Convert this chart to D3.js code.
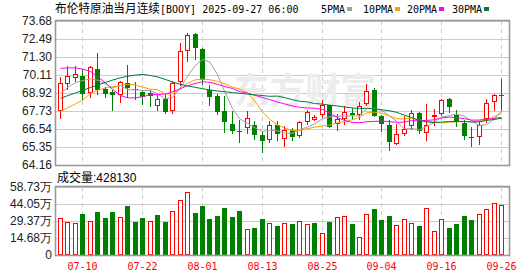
<!DOCTYPE html>
<html><head><meta charset="utf-8">
<script src="https://cdn.jsdelivr.net/npm/d3@7/dist/d3.min.js"></script>
<style>html,body{margin:0;padding:0;background:#fff;}svg{display:block;}</style>
</head><body>
<script>
const dates = ["07-07","07-08","07-09","07-10","07-11","07-14","07-15","07-16","07-17","07-18","07-21","07-22","07-23","07-24","07-25","07-28","07-29","07-30","07-31",
"08-01","08-04","08-05","08-06","08-07","08-08","08-11","08-12","08-13","08-14","08-15","08-18","08-19","08-20","08-21","08-22","08-25","08-26","08-27","08-28","08-29",
"09-01","09-02","09-03","09-04","09-05","09-08","09-09","09-10","09-11","09-12","09-15","09-16","09-17","09-18","09-19","09-22","09-23","09-24","09-25","09-26"];
const open = [67.71,69.54,69.93,70.07,68.90,70.51,69.21,69.01,68.81,69.58,
69.18,68.99,68.92,68.04,68.52,67.71,69.62,71.72,72.82,71.83,
69.14,68.74,67.75,66.87,66.38,66.60,66.78,66.12,65.79,66.83,
65.88,66.49,66.05,66.98,67.11,67.44,68.10,66.87,67.20,67.60,
67.44,68.21,69.14,67.38,66.83,65.57,66.21,66.71,67.60,66.25,
67.33,67.53,68.52,67.49,66.94,65.99,65.99,67.22,68.32,68.75];
const close = [69.58,70.02,70.15,68.88,70.62,69.14,68.88,68.77,69.65,69.25,
69.12,68.66,68.74,68.52,67.64,69.58,71.72,72.73,71.89,69.80,
68.66,67.64,66.98,66.43,66.32,67.27,66.12,65.72,66.83,66.21,
66.49,65.99,66.98,67.64,67.31,68.10,66.69,67.20,67.64,67.44,
68.08,69.03,67.38,66.87,65.68,66.21,66.54,67.60,66.38,66.83,
67.44,68.44,67.97,66.98,66.05,66.03,66.83,68.24,68.77,68.80];
const high = [69.96,70.68,70.68,70.53,70.68,71.56,69.29,69.14,69.69,70.79,
69.65,69.14,69.14,68.81,68.81,69.69,72.23,72.89,72.86,71.89,
69.47,68.85,68.70,67.71,67.15,67.71,67.05,66.38,67.05,67.05,
66.72,66.60,67.05,67.82,67.49,68.48,68.15,67.53,68.04,67.93,
68.33,69.51,69.25,67.44,67.16,66.87,67.38,67.82,67.64,68.19,
67.86,68.52,68.59,67.82,67.16,66.65,67.00,68.52,68.85,69.87];
const low = [67.22,69.14,69.65,68.48,68.59,68.81,68.59,67.75,68.26,68.59,
68.48,68.15,67.99,67.71,67.53,67.53,69.36,70.95,71.08,69.43,
68.04,67.44,66.27,66.21,65.60,66.21,65.83,64.98,65.61,65.72,
65.33,65.77,65.94,66.83,67.05,67.27,66.60,66.38,66.83,67.16,
67.16,68.04,67.31,66.34,65.06,65.46,66.05,66.49,66.21,65.72,
66.71,67.38,67.60,66.67,65.83,65.33,65.46,66.94,67.71,67.72];
const volume = [317000,283000,274000,351000,291000,371000,317000,371000,325000,420000,
285000,320000,291000,342000,285000,377000,471000,548000,362000,422000,
311000,337000,405000,328000,380000,223000,234000,311000,274000,251000,
274000,268000,291000,265000,277000,188000,285000,325000,337000,268000,
154000,351000,397000,303000,337000,257000,308000,274000,251000,402000,
208000,308000,234000,268000,337000,303000,351000,394000,445000,428130];
// moving-average values before a full window exists
const ma5Head = [68.9,69.3,69.6,69.75];
const ma10Head = [67.71,67.95,68.2,68.46,68.88,69.1,69.25,69.33,69.42];
const ma20Head = [70.55,70.58,70.58,70.5,70.35,70.0,69.6,69.15,68.75,68.6,68.6,68.68,68.8,68.82,68.85,69.0,69.2,69.4,69.55];
const ma30Head = [68.57,68.75,68.92,69.1,69.28,69.45,69.62,69.78,69.92,70.03,70.1,70.15,70.08,69.98,69.82,69.65,69.5,69.38,69.3,69.2,69.12,69.05,69.0,68.95,68.9,68.85,68.8,68.75,68.7];
const priceTicks = [73.68,72.49,71.30,70.11,68.92,67.73,66.54,65.35,64.16];
const volTicks = [587300,440500,293700,146800,0];
const volTickLabels = ["58.73万","44.05万","29.37万","14.68万","0"];
const xTickLabels = ["07-10","07-22","08-01","08-13","08-25","09-04","09-16","09-26"];
const title = "布伦特原油当月连续";
const titleCode = "[BOOY] 2025-09-27 06:00";
const maNames = ["5PMA","10PMA","20PMA","30PMA"];
const maColors = ["#a0a0a0","#f5a300","#ff00ff","#007a3a"];

const W=530,H=276;
const L=56,R=509,T=21,B=165,VT=187,VB=255;
const svg=d3.select("body").append("svg").attr("width",W).attr("height",H);
const x=d3.scalePoint().domain(dates).range([60,501]);
const y=d3.scaleLinear().domain([64.16,73.68]).range([B,T]);
const yv=d3.scaleLinear().domain([0,587300]).range([VB,VT]);
const RED="#ff0000",GREEN="#008000";
const font="'Liberation Sans',Arial,sans-serif";
const mono="'DejaVu Sans Mono',monospace";
const cx=d=>Math.round(x(d));

// gridlines
svg.append("g").selectAll("line").data(priceTicks).join("line")
 .attr("x1",L).attr("x2",R).attr("y1",d=>Math.round(y(d))+0.5).attr("y2",d=>Math.round(y(d))+0.5)
 .attr("stroke","#cccccc");
svg.append("g").selectAll("line").data(volTicks).join("line")
 .attr("x1",L).attr("x2",R).attr("y1",d=>Math.round(yv(d))+0.5).attr("y2",d=>Math.round(yv(d))+0.5)
 .attr("stroke","#cccccc");
// vertical dashed
const vg=svg.append("g");
xTickLabels.forEach(t=>{
  const xx=cx(t)+0.5;
  vg.append("line").attr("x1",xx).attr("x2",xx).attr("y1",T).attr("y2",B).attr("stroke","#c8c8c8").attr("stroke-dasharray","4,4");
  vg.append("line").attr("x1",xx).attr("x2",xx).attr("y1",VT).attr("y2",VB).attr("stroke","#c8c8c8").attr("stroke-dasharray","4,4");
});
// watermark
svg.append("text").attr("x",234).attr("y",104).attr("font-family","'Noto Sans CJK SC',sans-serif")
 .attr("font-size",36).attr("font-weight","bold").attr("fill","#ececec").attr("textLength",142).attr("lengthAdjust","spacingAndGlyphs").text("东方财富");

// candles
const idx=d3.range(dates.length);
const cg=svg.append("g");
idx.forEach(i=>{
  const d=dates[i],c=cx(d);
  const up=close[i]>=open[i];
  const col=up?RED:GREEN;
  const yh=y(high[i]),yl=y(low[i]);
  const yo=y(open[i]),yc=y(close[i]);
  const top=Math.round(Math.min(yo,yc)),bot=Math.round(Math.max(yo,yc));
  cg.append("line").attr("x1",c+0.5).attr("x2",c+0.5).attr("y1",Math.round(yh)).attr("y2",Math.round(yl)).attr("stroke",col);
  if(up){
    const h=Math.max(bot-top,1);
    if(bot-top<=1){
      cg.append("line").attr("x1",c-2).attr("x2",c+3).attr("y1",top+0.5).attr("y2",top+0.5).attr("stroke",col);
    } else {
      cg.append("rect").attr("x",c-1.5).attr("y",top+0.5).attr("width",4).attr("height",h-1).attr("fill","#fff").attr("stroke",col);
    }
  } else {
    cg.append("rect").attr("x",c-2).attr("y",top).attr("width",5).attr("height",Math.max(bot-top,1)).attr("fill",col);
  }
});

// moving averages
function ma(n,head){
  return idx.map(i=> i>=n-1 ? d3.mean(close.slice(i-n+1,i+1)) : head[i]);
}
const mas=[ma(5,ma5Head),ma(10,ma10Head),ma(20,ma20Head),ma(30,ma30Head)];
svg.append("clipPath").attr("id","clp").append("rect").attr("x",L).attr("y",T).attr("width",R-L).attr("height",B-T);
const line=d3.line().x((v,i)=>x(dates[i])+0.5).y(v=>y(v));
mas.forEach((m,k)=>{
  svg.append("path").attr("d",line(m)).attr("fill","none").attr("stroke",maColors[k]).attr("stroke-width",1).attr("clip-path","url(#clp)");
});

// volume bars
const vb=svg.append("g");
idx.forEach(i=>{
  const c=cx(dates[i]);
  const up=i===0?close[i]>=open[i]:close[i]>=close[i-1];
  const top=Math.round(yv(volume[i]));
  if(up){
    vb.append("rect").attr("x",c-1.5).attr("y",top+0.5).attr("width",4).attr("height",VB-top-1).attr("fill","#fff").attr("stroke",RED);
  } else {
    vb.append("rect").attr("x",c-2).attr("y",top).attr("width",5).attr("height",VB-top).attr("fill",GREEN);
  }
});

// borders
svg.append("rect").attr("x",L-0.5).attr("y",T-0.5).attr("width",R-L+1).attr("height",B-T+1).attr("fill","none").attr("stroke","#999").attr("stroke-width",1.6);
svg.append("rect").attr("x",L-0.5).attr("y",VT-0.5).attr("width",R-L+1).attr("height",VB-VT+1).attr("fill","none").attr("stroke","#999").attr("stroke-width",1.6);

// axes labels
svg.append("g").selectAll("text").data(priceTicks).join("text")
 .attr("x",52).attr("y",d=>y(d)).attr("dy","0.36em").attr("text-anchor","end")
 .attr("font-family",font).attr("font-size",12).attr("fill","#222").text(d=>d.toFixed(2));
svg.append("g").selectAll("text").data(volTicks).join("text")
 .attr("x",52).attr("y",d=>yv(d)).attr("dy","0.36em").attr("text-anchor","end")
 .attr("font-family",font).attr("font-size",12).attr("fill","#222").text((d,i)=>volTickLabels[i]);
svg.append("g").selectAll("text").data(xTickLabels).join("text")
 .attr("x",d=>cx(d)+0.5).attr("y",270).attr("text-anchor","middle")
 .attr("font-family",mono).attr("font-size",10).attr("fill","#ff0000").text(d=>d);

// title
svg.append("text").attr("x",55).attr("y",13).attr("font-family","'Noto Sans CJK SC',sans-serif").attr("font-size",12)
 .attr("fill","#000").attr("textLength",105).attr("lengthAdjust","spacingAndGlyphs").text(title);
svg.append("text").attr("x",160).attr("y",13).attr("font-family",mono).attr("font-size",10)
 .attr("fill","#000").text(titleCode);
// legend
const legX=[321,363,407,452];
maNames.forEach((n,k)=>{
  svg.append("text").attr("x",legX[k]).attr("y",13).attr("font-family",mono).attr("font-size",10)
   .attr("fill","#000").text(n);
  svg.append("rect").attr("x",legX[k]+n.length*6+2).attr("y",7).attr("width",5).attr("height",4).attr("fill",maColors[k]);
});
// volume label
svg.append("text").attr("x",57).attr("y",182).attr("font-family","'Noto Sans CJK SC',sans-serif").attr("font-size",12)
 .attr("fill","#000").text("成交量");
svg.append("text").attr("x",93).attr("y",182).attr("font-family",font).attr("font-size",12)
 .attr("fill","#000").text(":"+volume[volume.length-1]);
</script>
</body></html>
